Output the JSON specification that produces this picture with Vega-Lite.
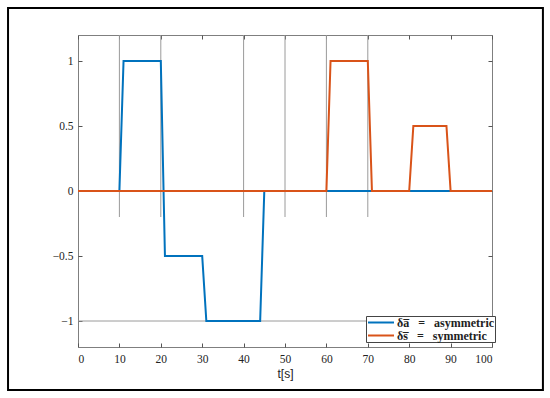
{
  "$schema": "https://vega.github.io/schema/vega-lite/v6.json",
  "autosize": {"type": "none"},
  "padding": {"left": 78, "top": 35, "right": 58, "bottom": 51},
  "width": 414,
  "height": 312,
  "background": "white",
  "config": {
    "view": {"stroke": "#7f7f7f", "strokeWidth": 1},
    "axis": {
      "domain": false,
      "grid": false,
      "tickColor": "#555555",
      "tickSize": -4,
      "labelFont": "Liberation Serif",
      "labelFontSize": 11.5,
      "labelColor": "#222222",
      "titleFont": "Liberation Sans",
      "titleFontWeight": "normal",
      "titleFontSize": 12,
      "titleColor": "#222222"
    }
  },
  "datasets": {
    "series": [
      {"t": 0, "v": 0, "s": "a"},
      {"t": 10, "v": 0, "s": "a"},
      {"t": 11, "v": 1, "s": "a"},
      {"t": 20, "v": 1, "s": "a"},
      {"t": 21, "v": -0.5, "s": "a"},
      {"t": 30, "v": -0.5, "s": "a"},
      {"t": 31, "v": -1, "s": "a"},
      {"t": 44, "v": -1, "s": "a"},
      {"t": 45, "v": 0, "s": "a"},
      {"t": 100, "v": 0, "s": "a"},
      {"t": 0, "v": 0, "s": "s"},
      {"t": 60, "v": 0, "s": "s"},
      {"t": 61, "v": 1, "s": "s"},
      {"t": 70, "v": 1, "s": "s"},
      {"t": 71, "v": 0, "s": "s"},
      {"t": 80, "v": 0, "s": "s"},
      {"t": 81, "v": 0.5, "s": "s"},
      {"t": 89, "v": 0.5, "s": "s"},
      {"t": 90, "v": 0, "s": "s"},
      {"t": 100, "v": 0, "s": "s"}
    ],
    "vlines": [{"t": 10}, {"t": 20}, {"t": 40}, {"t": 50}, {"t": 60}, {"t": 70}]
  },
  "resolve": {"axis": {"x": "independent", "y": "independent"}},
  "layer": [
    {
      "data": {"name": "vlines"},
      "mark": {"type": "rule", "color": "#9a9a9a", "strokeWidth": 1},
      "encoding": {
        "x": {"field": "t", "type": "quantitative", "scale": {"domain": [0, 100], "nice": false},
              "axis": {"orient": "top", "labels": false, "title": null, "values": [0,10,20,30,40,50,60,70,80,90,100]}},
        "y": {"datum": -0.2, "type": "quantitative", "scale": {"domain": [-1.2, 1.2], "nice": false},
              "axis": {"orient": "right", "labels": false, "title": null, "values": [-1, -0.5, 0, 0.5, 1]}},
        "y2": {"datum": 1.2}
      }
    },
    {
      "data": {"values": [{}]},
      "mark": {"type": "rule", "color": "#9a9a9a", "strokeWidth": 1},
      "encoding": {
        "x": {"datum": 0, "type": "quantitative", "axis": null},
        "x2": {"datum": 100},
        "y": {"datum": -1, "type": "quantitative", "axis": null}
      }
    },
    {
      "data": {"name": "series"},
      "mark": {"type": "line", "strokeWidth": 2},
      "encoding": {
        "x": {"field": "t", "type": "quantitative",
              "axis": {"orient": "bottom", "title": "t[s]", "values": [0,10,20,30,40,50,60,70,80,90,100], "labelPadding": 10, "titlePadding": 4}},
        "y": {"field": "v", "type": "quantitative",
              "axis": {"orient": "left", "title": null, "format": "~g", "values": [-1, -0.5, 0, 0.5, 1], "labelPadding": 9}},
        "color": {
          "field": "s", "type": "nominal",
          "scale": {"domain": ["a", "s"], "range": ["#0072BD", "#D95319"]},
          "legend": {
            "orient": "none",
            "legendX": 288,
            "legendY": 281,
            "title": null,
            "labelExpr": "datum.value == 'a' ? 'δa\u0305\u00a0\u00a0\u00a0=\u00a0\u00a0\u00a0asymmetric' : 'δs\u0305\u00a0\u00a0\u00a0=\u00a0\u00a0\u00a0symmetric'",
            "symbolType": "stroke",
            "symbolSize": 676,
            "symbolStrokeWidth": 2,
            "symbolOffset": 1,
            "clipHeight": 13,
            "labelFont": "Liberation Serif",
            "labelFontWeight": "bold",
            "labelFontSize": 12,
            "labelColor": "#222222",
            "labelOffset": 2,
            "rowPadding": 0,
            "padding": 0,
            "strokeColor": "#444444",
            "fillColor": "white"
          }
        }
      }
    },
    {
      "data": {"values": [{}]},
      "mark": {"type": "rect", "fill": null, "filled": false, "stroke": "black", "strokeWidth": 2, "clip": false},
      "encoding": {
        "x": {"datum": -16.9, "type": "quantitative", "axis": null},
        "x2": {"datum": 112.3},
        "y": {"datum": 1.408, "type": "quantitative", "axis": null},
        "y2": {"datum": -1.531}
      }
    }
  ]
}
